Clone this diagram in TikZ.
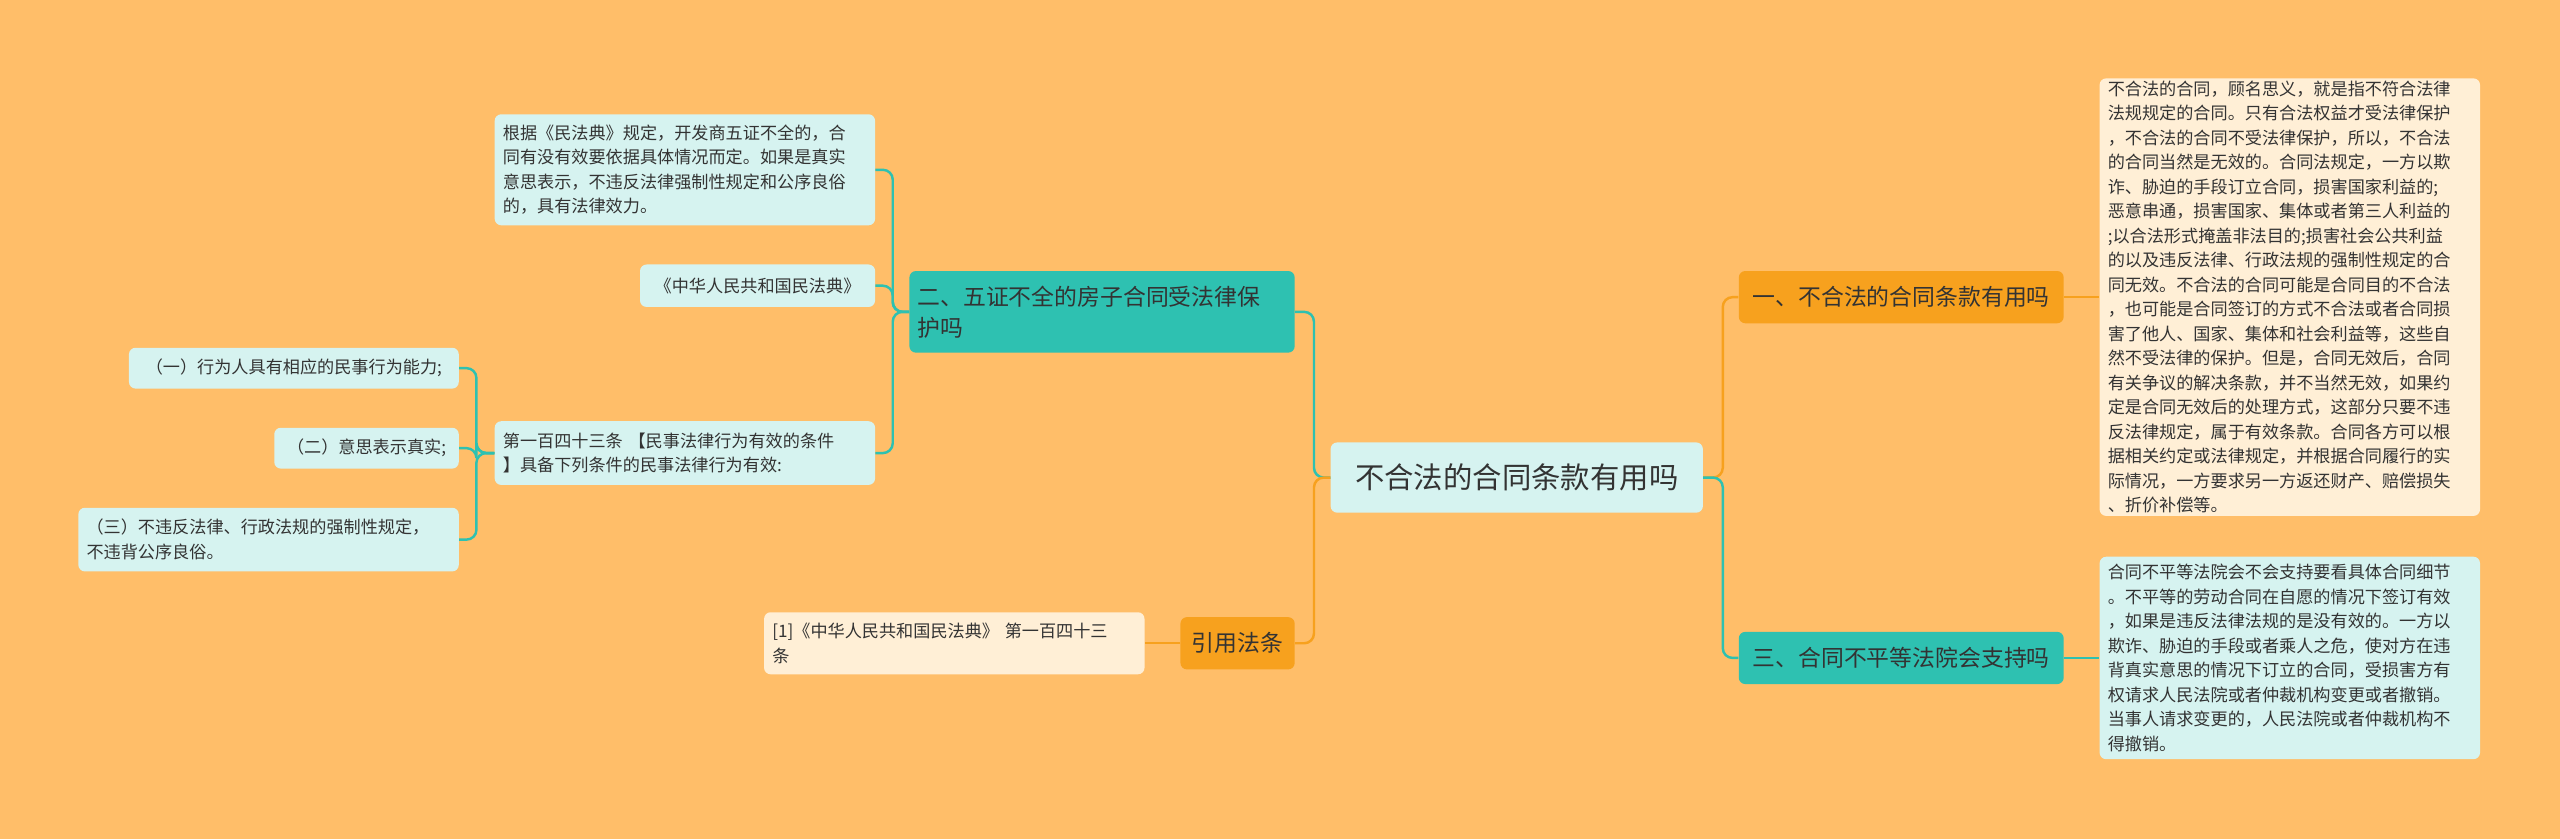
\documentclass[tikz,border=0pt]{standalone}
\usepackage{fontspec}
\setmainfont{Noto Sans CJK SC}
\begin{document}
\begin{tikzpicture}[x=1pt,y=-1pt,
  bx/.style={rounded corners=4pt,inner sep=0pt,align=left,text=black!80},
  lt/.style={bx,fill=cyanl,font=\fontsize{10.5}{15}\selectfont},
  cr/.style={bx,fill=creaml,font=\fontsize{10.5}{15}\selectfont},
  tl/.style={bx,fill=tealc,font=\fontsize{14}{19}\selectfont},
  og/.style={bx,fill=orangec,font=\fontsize{14}{19}\selectfont},
  tline/.style={draw=tealc,line width=1.5pt,rounded corners=6pt},
  oline/.style={draw=orangec,line width=1.5pt,rounded corners=6pt}]
\definecolor{bgc}{HTML}{FFBE69}
\definecolor{cyanl}{HTML}{D6F3F0}
\definecolor{creaml}{HTML}{FFEFD6}
\definecolor{tealc}{HTML}{2EC1B1}
\definecolor{orangec}{HTML}{F7A11E}
\fill[bgc] (0,0) rectangle (1568,514);
\useasboundingbox (0,0) rectangle (1568,514);
\node[bx,fill=cyanl,minimum width=228,minimum height=43,font=\fontsize{18}{22}\selectfont,align=center] (c) at (929,292.5) {不合法的合同条款有用吗};
\node[og,minimum width=199,minimum height=32,align=center] (r1) at (1164.5,182) {一、不合法的合同条款有用吗};
\node[tl,minimum width=199,minimum height=32,align=center] (r3) at (1164.5,403) {三、合同不平等法院会支持吗};
\node[cr,minimum width=233,minimum height=268,text width=223] (t1) at (1402.5,182) {不合法的合同，顾名思义，就是指不符合法律\\法规规定的合同。只有合法权益才受法律保护\\，不合法的合同不受法律保护，所以，不合法\\的合同当然是无效的。合同法规定，一方以欺\\诈、胁迫的手段订立合同，损害国家利益的;\\恶意串通，损害国家、集体或者第三人利益的\\;以合法形式掩盖非法目的;损害社会公共利益\\的以及违反法律、行政法规的强制性规定的合\\同无效。不合法的合同可能是合同目的不合法\\，也可能是合同签订的方式不合法或者合同损\\害了他人、国家、集体和社会利益等，这些自\\然不受法律的保护。但是，合同无效后，合同\\有关争议的解决条款，并不当然无效，如果约\\定是合同无效后的处理方式，这部分只要不违\\反法律规定，属于有效条款。合同各方可以根\\据相关约定或法律规定，并根据合同履行的实\\际情况，一方要求另一方返还财产、赔偿损失\\、折价补偿等。};
\node[lt,minimum width=233,minimum height=124,text width=223] (t3) at (1402.5,403) {合同不平等法院会不会支持要看具体合同细节\\。不平等的劳动合同在自愿的情况下签订有效\\，如果是违反法律法规的是没有效的。一方以\\欺诈、胁迫的手段或者乘人之危，使对方在违\\背真实意思的情况下订立的合同，受损害方有\\权请求人民法院或者仲裁机构变更或者撤销。\\当事人请求变更的，人民法院或者仲裁机构不\\得撤销。};
\node[tl,minimum width=236,minimum height=50,text width=226] (l2) at (675,191) {二、五证不全的房子合同受法律保\\护吗};
\node[og,minimum width=70,minimum height=32,align=center] (ly) at (758,394) {引用法条};
\node[cr,minimum width=233,minimum height=38,text width=223] (ref) at (584.5,394) {[1]《中华人民共和国民法典》 第一百四十三\\条};
\node[lt,minimum width=233,minimum height=68,text width=223] (a) at (419.5,104) {根据《民法典》规定，开发商五证不全的，合\\同有没有效要依据具体情况而定。如果是真实\\意思表示，不违反法律强制性规定和公序良俗\\的，具有法律效力。};
\node[lt,minimum width=144,minimum height=26,align=center] (b) at (464,175) {《中华人民共和国民法典》};
\node[lt,minimum width=233,minimum height=39,text width=223] (cc) at (419.5,277.5) {第一百四十三条 【民事法律行为有效的条件\\】具备下列条件的民事法律行为有效:};
\node[lt,minimum width=202,minimum height=25,align=center] (c1) at (180,225.5) {（一）行为人具有相应的民事行为能力;};
\node[lt,minimum width=113,minimum height=25,align=center] (c2) at (224.5,274.5) {（二）意思表示真实;};
\node[lt,minimum width=233,minimum height=39,text width=223] (c3) at (164.5,330.5) {（三）不违反法律、行政法规的强制性规定，\\不违背公序良俗。};
% connectors
\draw[oline] (c.east) -- ++(12,0) |- (r1.west);
\draw[tline] (c.east) -- ++(12,0) |- (r3.west);
\draw[oline] (r1.east) -- (t1.west);
\draw[tline] (r3.east) -- (t3.west);
\draw[tline] (c.west) -- ++(-10,0) |- (l2.east);
\draw[oline] (c.west) -- ++(-10,0) |- (ly.east);
\draw[oline] (ly.west) -- (ref.east);
\draw[tline] (l2.west) -- ++(-10,0) |- (a.east);
\draw[tline] (l2.west) -- ++(-10,0) |- (b.east);
\draw[tline] (l2.west) -- ++(-10,0) |- (cc.east);
\draw[tline] (cc.west) -- ++(-11,0) |- (c1.east);
\draw[tline] (cc.west) -- ++(-11,0) |- (c2.east);
\draw[tline] (cc.west) -- ++(-11,0) |- (c3.east);
\end{tikzpicture}
\end{document}
